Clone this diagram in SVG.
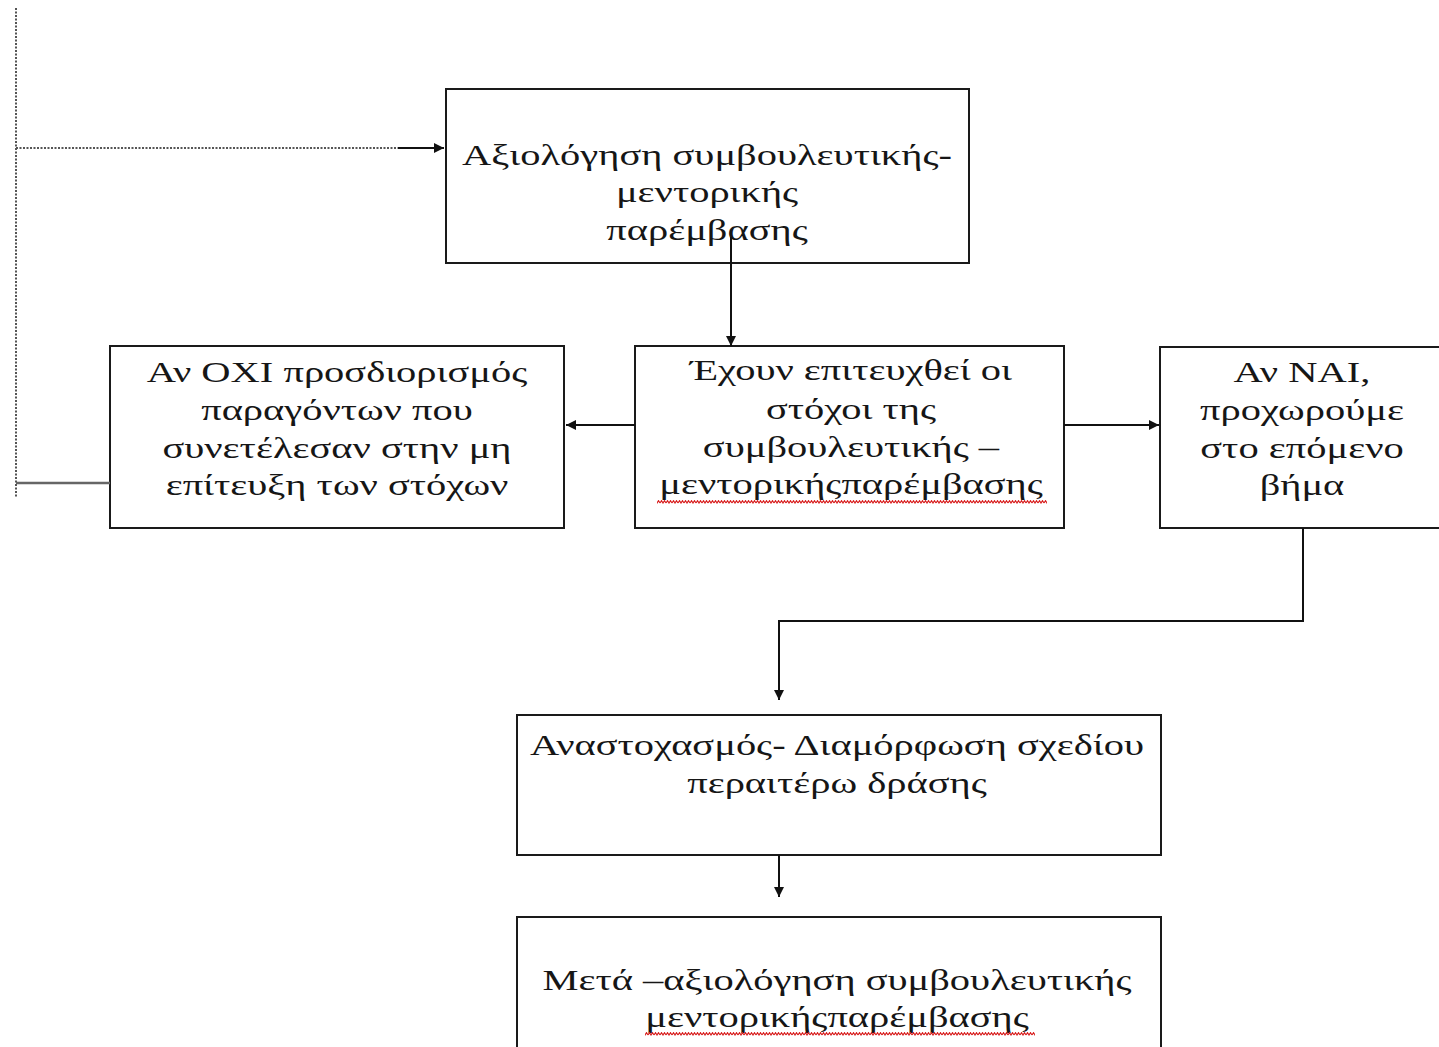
<svg xmlns="http://www.w3.org/2000/svg" width="1439" height="1047" viewBox="0 0 1439 1047">
<defs>
<marker id="arr" viewBox="0 0 10 10" refX="10" refY="5" markerWidth="10" markerHeight="10" markerUnits="userSpaceOnUse" orient="auto">
<path d="M0,0 L10,5 L0,10 z" fill="#111"/>
</marker>
<pattern id="sq" width="6" height="4" patternUnits="userSpaceOnUse">
<path d="M0,3 L1.5,0.7 L3,3 L4.5,0.7 L6,3" fill="none" stroke="#d81e1e" stroke-width="1.2"/>
</pattern>
</defs>
<style>
.box{fill:#fff;stroke:#1a1a1a;stroke-width:2}
.t{font-family:"Liberation Serif","Times New Roman",serif;font-size:30px;fill:#161616;text-anchor:middle}
.c{fill:none;stroke:#111;stroke-width:2}
.dot{fill:none;stroke:#555;stroke-width:2;stroke-dasharray:2 1.5}
.g{fill:none;stroke:#666;stroke-width:2.5}
</style>
<rect width="1439" height="1047" fill="#fff"/>
<g id="n1">
<rect class="box" x="446" y="89" width="523" height="174"/>
<g transform="matrix(1.35,0,0,1,-247.45,0)">
<text class="t" x="707" y="165">Αξιολόγηση συμβουλευτικής-</text>
<text class="t" x="707" y="202">μεντορικής</text>
<text class="t" x="707" y="240">παρέμβασης</text>
</g>
</g>
<g id="n2">
<rect class="box" x="110" y="346" width="454" height="182"/>
<g transform="matrix(1.35,0,0,1,-117.95,0)">
<text class="t" x="337" y="382">Αν ΟΧΙ προσδιορισμός</text>
<text class="t" x="337" y="420">παραγόντων που</text>
<text class="t" x="337" y="458">συνετέλεσαν στην μη</text>
<text class="t" x="337" y="495">επίτευξη των στόχων</text>
</g>
</g>
<g id="n3">
<rect class="box" x="635" y="346" width="429" height="182"/>
<g transform="matrix(1.35,0,0,1,-297.85,0)">
<text class="t" x="851" y="380">Έχουν επιτευχθεί οι</text>
<text class="t" x="851" y="419">στόχοι της</text>
<text class="t" x="851" y="457">συμβουλευτικής –</text>
<text class="t" x="851" y="494">μεντορικήςπαρέμβασης</text>
</g>
<rect x="657" y="500" width="390" height="4" fill="url(#sq)"/>
</g>
<g id="n4">
<rect class="box" x="1160" y="347" width="290" height="181"/>
<g transform="matrix(1.35,0,0,1,-455.7,0)">
<text class="t" x="1302" y="382">Αν ΝΑΙ,</text>
<text class="t" x="1302" y="420">προχωρούμε</text>
<text class="t" x="1302" y="458">στο επόμενο</text>
<text class="t" x="1302" y="495">βήμα</text>
</g>
</g>
<g id="n5">
<rect class="box" x="517" y="715" width="644" height="140"/>
<g transform="matrix(1.35,0,0,1,-292.95,0)">
<text class="t" x="837" y="755">Αναστοχασμός- Διαμόρφωση σχεδίου</text>
<text class="t" x="837" y="793">περαιτέρω δράσης</text>
</g>
</g>
<g id="n6">
<rect class="box" x="517" y="917" width="644" height="140"/>
<g transform="matrix(1.35,0,0,1,-292.95,0)">
<text class="t" x="837" y="990">Μετά –αξιολόγηση συμβουλευτικής</text>
<text class="t" x="837" y="1027">μεντορικήςπαρέμβασης</text>
</g>
<rect x="645" y="1032" width="390" height="4" fill="url(#sq)"/>
</g>
<g id="connectors">
<line class="dot" x1="16" y1="8" x2="16" y2="497"/>
<line class="dot" x1="16" y1="148" x2="400" y2="148"/>
<line class="c" x1="398" y1="148" x2="444" y2="148" marker-end="url(#arr)"/>
<line class="g" x1="16" y1="483" x2="110" y2="483"/>
<line class="c" x1="731" y1="237" x2="731" y2="346" marker-end="url(#arr)"/>
<line class="c" x1="635" y1="425" x2="566" y2="425" marker-end="url(#arr)"/>
<line class="c" x1="1064" y1="425" x2="1159" y2="425" marker-end="url(#arr)"/>
<polyline class="c" points="1303,528 1303,621 779,621 779,700" marker-end="url(#arr)"/>
<line class="c" x1="779" y1="855" x2="779" y2="897" marker-end="url(#arr)"/>
</g>
</svg>
